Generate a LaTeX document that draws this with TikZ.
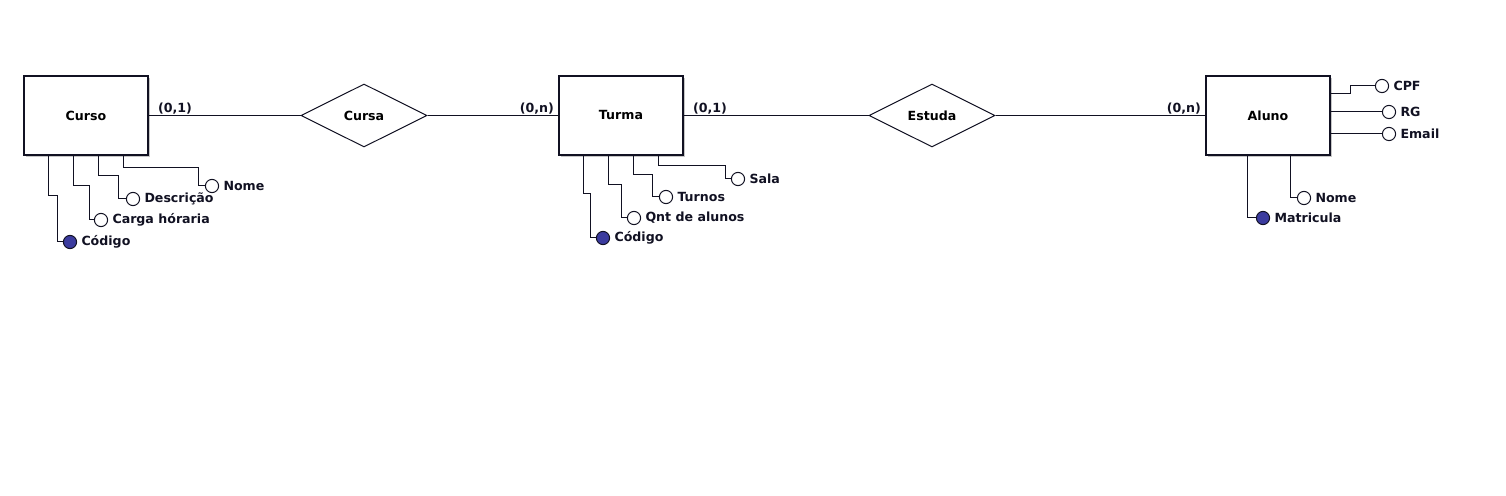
\documentclass[tikz,border=0pt]{standalone}
\usepackage{fontspec}
\setmainfont{DejaVu Sans}
\usepackage{tikz}
\usetikzlibrary{shapes.geometric,positioning,shadows}
\definecolor{keyblue}{HTML}{3B3B9E}
\definecolor{ink}{HTML}{111122}
\definecolor{shade}{HTML}{A0A0A0}

\begin{document}
\begin{tikzpicture}[x=0.5pt, y=-0.5pt,
    entity/.style={rectangle, draw=ink, line width=0.75pt, fill=white, minimum width=62pt, minimum height=39.5pt, font=\fontsize{6.3}{7}\selectfont\bfseries, drop shadow={shadow xshift=0.9pt, shadow yshift=-0.9pt, fill=shade, opacity=0.6}},
    relation/.style={diamond, draw=ink, line width=0.5pt, fill=white, aspect=2, inner sep=0pt, minimum width=63pt, minimum height=31.5pt, font=\fontsize{6.3}{7}\selectfont\bfseries},
    attr/.style={circle, draw=ink, line width=0.5pt, fill=white, minimum size=6.6pt, inner sep=0pt},
    keyattr/.style={attr, fill=keyblue},
    attrname/.style={inner sep=0.5pt, font=\fontsize{6.3}{7}\selectfont\bfseries, text=ink},
    card/.style={inner sep=0.5pt, font=\fontsize{6.3}{7}\selectfont\bfseries, text=ink},
    link/.style={draw=ink, line width=0.5pt}]
    \useasboundingbox (0,0) rectangle (1506,496);

    % entities and relationships
    \node[entity] (curso) at (86,115.5) {Curso};
    \node[relation] (cursa) at (364,115.5) {Cursa};
    \node[entity] (turma) at (621,115.5) {Turma};
    \node[relation] (estuda) at (932,115.5) {Estuda};
    \node[entity] (aluno) at (1268,115.5) {Aluno};

    \draw[link] (curso.east) -- (cursa.west);
    \draw[link] (cursa.east) -- (turma.west);
    \draw[link] (turma.east) -- (estuda.west);
    \draw[link] (estuda.east) -- (aluno.west);

    \node[card, anchor=south west] (k1) at ([xshift=4pt]curso.east) {(0,1)};
    \node[card, anchor=south east] (k2) at ([xshift=-1.5pt]turma.west) {(0,n)};
    \node[card, anchor=south west] (k3) at ([xshift=4pt]turma.east) {(0,1)};
    \node[card, anchor=south east] (k4) at ([xshift=-1.5pt]aluno.west) {(0,n)};

    % Curso
    \node[keyattr] (cur1) at (70,242) {};
    \node[attr] (cur2) at (101,220) {};
    \node[attr] (cur3) at (133,199) {};
    \node[attr] (cur4) at (212,186) {};
    \node[attrname, right=1.5pt of cur1] (cur1t) {Código};
    \node[attrname, right=1.5pt of cur2] (cur2t) {Carga hóraria};
    \node[attrname, right=1.5pt of cur3] (cur3t) {Descrição};
    \node[attrname, right=1.5pt of cur4] (cur4t) {Nome};
    \draw[link] (curso.south west) ++(25,0) -- ++(0,40) -- ++(9,0) |- (cur1.west);
    \draw[link] (curso.south west) ++(50,0) -- ++(0,30) -- ++(16,0) |- (cur2.west);
    \draw[link] (curso.south west) ++(75,0) -- ++(0,20) -- ++(20,0) |- (cur3.west);
    \draw[link] (curso.south west) ++(100,0) -- ++(0,12) -- ++(75,0) |- (cur4.west);

    % Turma
    \node[keyattr] (tur1) at (603,238) {};
    \node[attr] (tur2) at (634,218) {};
    \node[attr] (tur3) at (666,197) {};
    \node[attr] (tur4) at (738,179) {};
    \node[attrname, right=1.5pt of tur1] (tur1t) {Código};
    \node[attrname, right=1.5pt of tur2] (tur2t) {Qnt de alunos};
    \node[attrname, right=1.5pt of tur3] (tur3t) {Turnos};
    \node[attrname, right=1.5pt of tur4] (tur4t) {Sala};
    \draw[link] (turma.south west) ++(25,0) -- ++(0,38) -- ++(7,0) |- (tur1.west);
    \draw[link] (turma.south west) ++(50,0) -- ++(0,29) -- ++(13,0) |- (tur2.west);
    \draw[link] (turma.south west) ++(75,0) -- ++(0,19) -- ++(19,0) |- (tur3.west);
    \draw[link] (turma.south west) ++(100,0) -- ++(0,10) -- ++(67,0) |- (tur4.west);

    % Aluno
    \node[attr] (alu1) at (1382,86) {};
    \node[attr] (alu2) at (1389,112) {};
    \node[attr] (alu3) at (1389,134) {};
    \node[keyattr] (alu4) at (1263,218) {};
    \node[attr] (alu5) at (1304,198) {};
    \node[attrname, right=1.5pt of alu1] (alu1t) {CPF};
    \node[attrname, right=1.5pt of alu2] (alu2t) {RG};
    \node[attrname, right=1.5pt of alu3] (alu3t) {Email};
    \node[attrname, right=1.5pt of alu4] (alu4t) {Matricula};
    \node[attrname, right=1.5pt of alu5] (alu5t) {Nome};
    \draw[link] (aluno.north east) ++(0,18) -- ++(20,0) |- (alu1.west);
    \draw[link] (aluno.east |- alu2) -- (alu2.west);
    \draw[link] (aluno.east |- alu3) -- (alu3.west);
    \draw[link] (aluno.south west) ++(42,0) |- (alu4.west);
    \draw[link] (aluno.south west) ++(85,0) |- (alu5.west);
\end{tikzpicture}
\end{document}
